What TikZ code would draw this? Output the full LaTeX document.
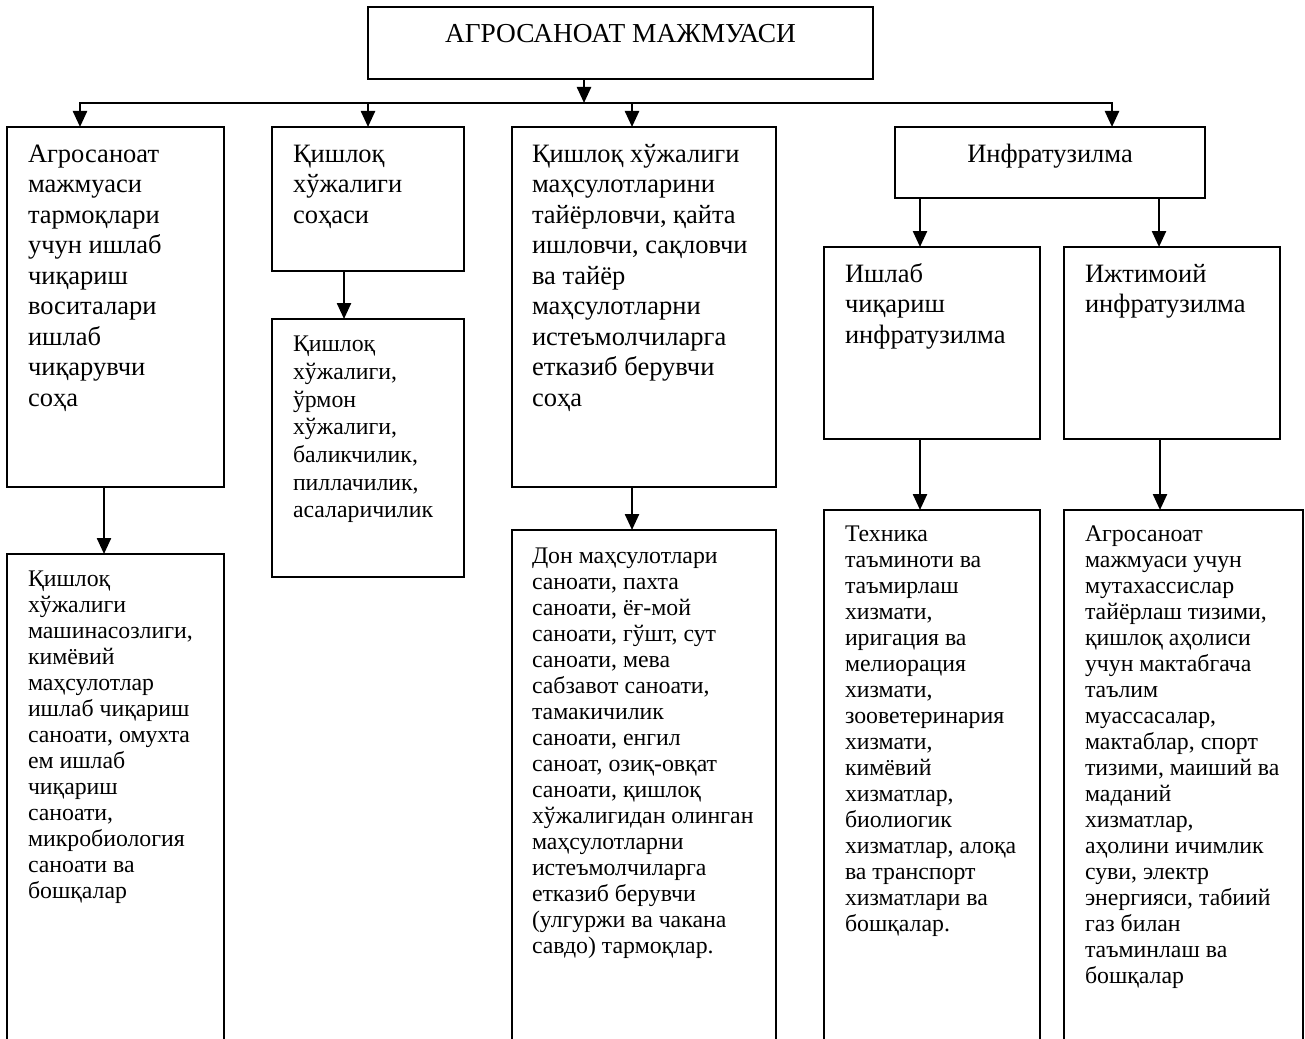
\documentclass[tikz,border=0pt]{standalone}
\usepackage{fontspec}
\setmainfont{Liberation Serif}
\usetikzlibrary{arrows.meta}
\begin{document}
\begin{tikzpicture}[x=1pt,y=-1pt,
  box/.style={draw, rectangle, line width=1.9pt, inner sep=0pt, outer sep=0pt},
  ln/.style={line width=2.4pt},
  arr/.style={line width=2.4pt, -{Triangle[width=14pt,length=16pt]}},
  bigtxt/.style={inner sep=0pt, outer sep=0pt, align=left, anchor=north west, font=\fontsize{26.5}{30.5}\selectfont},
  smalltxt/.style={inner sep=0pt, outer sep=0pt, align=left, anchor=north west, font=\fontsize{23.8}{26}\selectfont},
  widetxt/.style={inner sep=0pt, outer sep=0pt, align=left, anchor=north west, font=\fontsize{23.8}{27.7}\selectfont},
  ctrtxt/.style={inner sep=0pt, outer sep=0pt, anchor=base, font=\fontsize{26.5}{30.5}\selectfont},
  titletxt/.style={inner sep=0pt, outer sep=0pt, anchor=base, font=\fontsize{27.4}{31}\selectfont}
]
\path[use as bounding box, fill=white] (0,0) rectangle (1305,1038);

% boxes
\node[box, minimum width=505pt, minimum height=72pt] (top) at (620.5,43) {};
\node[box, minimum width=217pt, minimum height=360pt] (a) at (115.5,307) {};
\node[box, minimum width=192pt, minimum height=144pt] (b) at (368,199) {};
\node[box, minimum width=264pt, minimum height=360pt] (c) at (644,307) {};
\node[box, minimum width=310pt, minimum height=71pt] (d) at (1050,162.5) {};
\node[box, minimum width=216pt, minimum height=192pt] (e1) at (932,343) {};
\node[box, minimum width=216pt, minimum height=192pt] (e2) at (1172,343) {};
\node[box, minimum width=192pt, minimum height=258pt] (b2) at (368,448) {};
\node[box, minimum width=217pt, minimum height=546pt] (a2) at (115.5,827) {};
\node[box, minimum width=264pt, minimum height=570pt] (c2) at (644,815) {};
\node[box, minimum width=216pt, minimum height=590pt] (f1) at (932,805) {};
\node[box, minimum width=239pt, minimum height=590pt] (f2) at (1183.5,805) {};

% texts
\node[titletxt] (ttop) at (620.5,43) {АГРОСАНОАТ МАЖМУАСИ};
\node[ctrtxt] (td) at (1050,162) {Инфратузилма};

\node[bigtxt] (ta) at ([xshift=21pt,yshift=-13.65pt]a.north west) {\strut Агросаноат\\мажмуаси\\тармоқлари\\учун ишлаб\\чиқариш\\воситалари\\ишлаб\\чиқарувчи\\соҳа};
\node[bigtxt] (tb) at ([xshift=21pt,yshift=-13.65pt]b.north west) {\strut Қишлоқ\\хўжалиги\\соҳаси};
\node[bigtxt] (tc) at ([xshift=20pt,yshift=-13.65pt]c.north west) {\strut Қишлоқ хўжалиги\\маҳсулотларини\\тайёрловчи, қайта\\ишловчи, сақловчи\\ва тайёр\\маҳсулотларни\\истеъмолчиларга\\етказиб берувчи\\соҳа};
\node[bigtxt] (te1) at ([xshift=21pt,yshift=-13.65pt]e1.north west) {\strut Ишлаб\\чиқариш\\инфратузилма};
\node[bigtxt] (te2) at ([xshift=21pt,yshift=-13.65pt]e2.north west) {\strut Ижтимоий\\инфратузилма};

\node[widetxt] (tb2) at ([xshift=21pt,yshift=-13.4pt]b2.north west) {\strut Қишлоқ\\хўжалиги,\\ўрмон\\хўжалиги,\\баликчилик,\\пиллачилик,\\асаларичилик};
\node[smalltxt] (ta2) at ([xshift=21pt,yshift=-13.8pt]a2.north west) {\strut Қишлоқ\\хўжалиги\\машинасозлиги,\\кимёвий\\маҳсулотлар\\ишлаб чиқариш\\саноати, омухта\\ем ишлаб\\чиқариш\\саноати,\\микробиология\\саноати ва\\бошқалар};
\node[smalltxt] (tc2) at ([xshift=20pt,yshift=-14.8pt]c2.north west) {\strut Дон маҳсулотлари\\саноати, пахта\\саноати, ёғ-мой\\саноати, гўшт, сут\\саноати, мева\\сабзавот саноати,\\тамакичилик\\саноати, енгил\\саноат, озиқ-овқат\\саноати, қишлоқ\\хўжалигидан олинган\\маҳсулотларни\\истеъмолчиларга\\етказиб берувчи\\(улгуржи ва чакана\\савдо) тармоқлар.};
\node[smalltxt] (tf1) at ([xshift=21pt,yshift=-12.8pt]f1.north west) {\strut Техника\\таъминоти ва\\таъмирлаш\\хизмати,\\иригация ва\\мелиорация\\хизмати,\\зооветеринария\\хизмати,\\кимёвий\\хизматлар,\\биолиогик\\хизматлар, алоқа\\ва транспорт\\хизматлари ва\\бошқалар.};
\node[smalltxt] (tf2) at ([xshift=21pt,yshift=-12.8pt]f2.north west) {\strut Агросаноат\\мажмуаси учун\\мутахассислар\\тайёрлаш тизими,\\қишлоқ аҳолиси\\учун мактабгача\\таълим\\муассасалар,\\мактаблар, спорт\\тизими, маиший ва\\маданий\\хизматлар,\\аҳолини ичимлик\\суви, электр\\энергияси, табиий\\газ билан\\таъминлаш ва\\бошқалар};

% connector coordinates
\coordinate (hub) at (584,103);
\coordinate (busL) at (80,103);
\coordinate (busB) at (368,103);
\coordinate (busC) at (632,103);
\coordinate (busR) at (1112,103);
\coordinate (xa) at (104,0);
\coordinate (xb) at (344,0);
\coordinate (xc) at (632,0);
\coordinate (xe1) at (920,0);
\coordinate (xe2) at (1159,0);
\coordinate (xf2) at (1160,0);

% connectors
\draw[ln, line cap=rect] (busL) -- (busR);
\draw[arr] (top.south -| hub) -- (hub);
\draw[arr] (busL) -- (busL |- a.north);
\draw[arr] (busB) -- (busB |- b.north);
\draw[arr] (busC) -- (busC |- c.north);
\draw[arr] (busR) -- (busR |- d.north);
\draw[arr] (a.south -| xa) -- (a2.north -| xa);
\draw[arr] (b.south -| xb) -- (b2.north -| xb);
\draw[arr] (c.south -| xc) -- (c2.north -| xc);
\draw[arr] (d.south -| xe1) -- (e1.north -| xe1);
\draw[arr] (d.south -| xe2) -- (e2.north -| xe2);
\draw[arr] (e1.south -| xe1) -- (f1.north -| xe1);
\draw[arr] (e2.south -| xf2) -- (f2.north -| xf2);
\end{tikzpicture}
\end{document}
